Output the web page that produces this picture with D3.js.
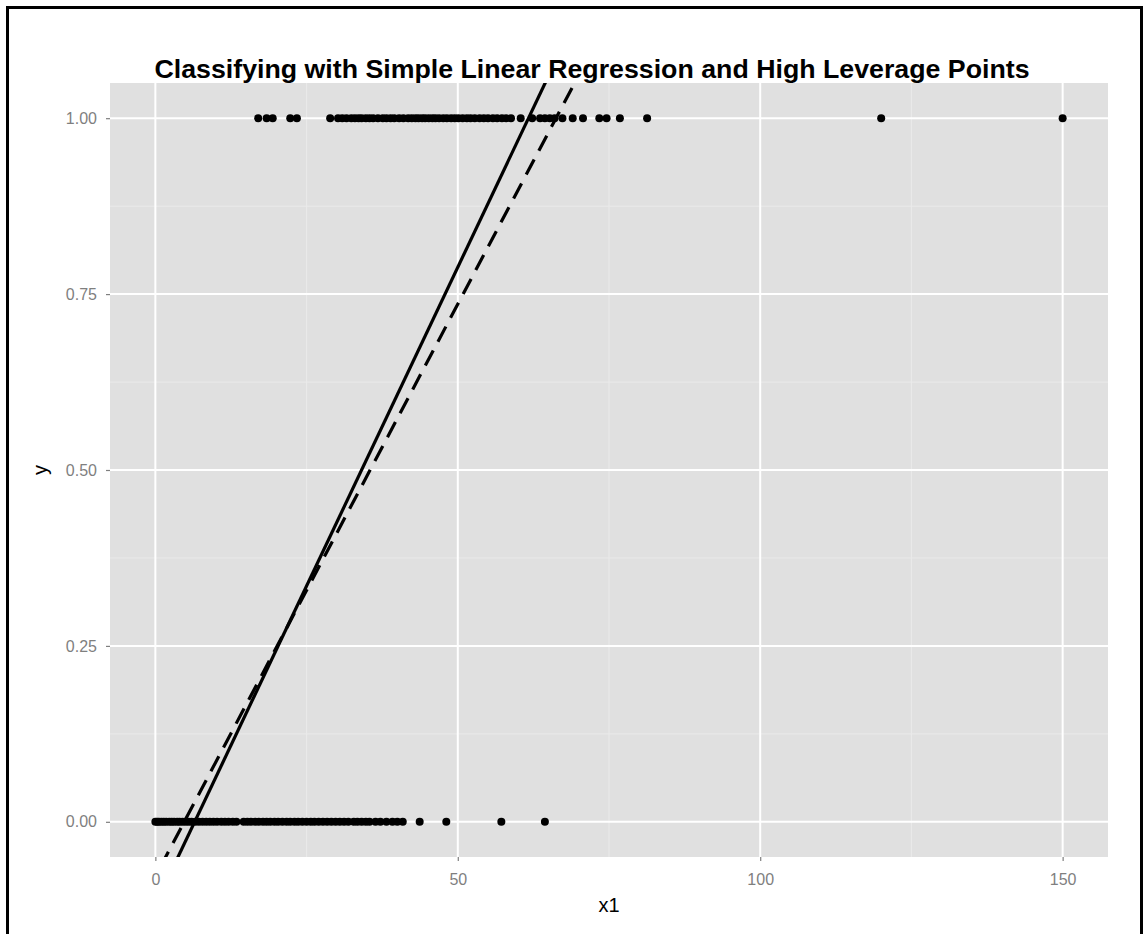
<!DOCTYPE html>
<html>
<head>
<meta charset="utf-8">
<script src="https://cdn.jsdelivr.net/npm/d3@7"></script>
<style>
  body { margin: 0; background: #fff; }
  svg { display: block; font-family: "Liberation Sans", Arial, Helvetica, sans-serif; }
</style>
</head>
<body>
<svg id="chart" width="1146" height="934"></svg>
<script>
// data ---------------------------------------------------------------
var title = "Classifying with Simple Linear Regression and High Leverage Points";

// x1 of the points with y = 1
var ones_x = [17.0, 18.4, 19.4, 22.3, 23.4,
  28.9, 30.2, 30.9, 31.6, 32.4, 33.0, 33.6, 34.1, 34.8, 35.4, 36.0, 36.8, 37.6, 38.2, 38.9,
  39.5, 40.3, 41.0, 41.8, 42.4, 43.0, 43.5, 44.1, 44.6, 45.2, 45.8, 46.3, 46.9, 47.6, 48.2,
  48.9, 49.5, 50.1, 50.8, 51.5, 52.1, 52.8, 53.6, 54.3, 55.0, 55.8, 56.5, 57.3, 58.0, 58.8,
  60.4, 62.3, 63.6, 64.4, 65.2, 66.0, 67.3, 69.0, 70.7, 73.4, 74.6, 76.8, 81.3, 120, 150];

// x1 of the points with y = 0
var zeros_x = [0.0, 0.3, 0.6, 1.0, 1.4, 1.8, 2.3, 2.7, 3.1, 3.6, 4.0, 4.5, 5.0, 5.5, 6.0, 6.6,
  7.2, 7.8, 8.4, 9.0, 9.6, 10.2, 10.9, 11.5, 12.1, 12.8, 13.4,
  14.6, 15.2, 15.8, 16.5, 17.1, 17.8, 18.4, 19.0, 19.7, 20.3, 21.0, 21.7, 22.3, 23.0, 23.6,
  24.3, 25.0, 25.7, 26.3, 27.0, 27.7, 28.4, 29.1, 29.8, 30.5, 31.2, 31.9,
  32.8, 33.4, 34.1, 34.8, 35.4, 36.4, 37.2, 38.2, 39.2, 40.0, 40.9,
  43.7, 48.1, 57.2, 64.4];

// regression fits: name, intercept, slope
var fit_names = ["without", "with"];
var fit_intercepts = [-0.1178, -0.0777];
var fit_slopes = [0.01812, 0.01627];

var x_ticks = [0, 50, 100, 150];
var x_minor = [25, 75, 125];
var y_ticks = [0, 0.25, 0.5, 0.75, 1];
var y_minor = [0.125, 0.375, 0.625, 0.875];

// layout ---------------------------------------------------------------
var svg = d3.select("#chart");
var panel = { left: 110, top: 83, right: 1108, bottom: 857 };

var x = d3.scaleLinear().domain([-7.5, 157.5]).range([panel.left, panel.right]);
var y = d3.scaleLinear().domain([-0.05, 1.05]).range([panel.bottom, panel.top]);

// frame
svg.append("rect")
  .attr("x", 7.5).attr("y", 7.5)
  .attr("width", 1134).attr("height", 960)
  .attr("fill", "none").attr("stroke", "#000").attr("stroke-width", 3);

// panel background
svg.append("rect")
  .attr("x", panel.left).attr("y", panel.top)
  .attr("width", panel.right - panel.left).attr("height", panel.bottom - panel.top)
  .attr("fill", "#e0e0e0");

// grid
var grid = svg.append("g");
grid.selectAll(".xmin").data(x_minor).enter().append("line")
  .attr("x1", d => x(d)).attr("x2", d => x(d))
  .attr("y1", panel.top).attr("y2", panel.bottom)
  .attr("stroke", "#eaeaea").attr("stroke-width", 1);
grid.selectAll(".ymin").data(y_minor).enter().append("line")
  .attr("y1", d => y(d)).attr("y2", d => y(d))
  .attr("x1", panel.left).attr("x2", panel.right)
  .attr("stroke", "#eaeaea").attr("stroke-width", 1);
grid.selectAll(".xmaj").data(x_ticks).enter().append("line")
  .attr("x1", d => x(d)).attr("x2", d => x(d))
  .attr("y1", panel.top).attr("y2", panel.bottom)
  .attr("stroke", "#fff").attr("stroke-width", 2);
grid.selectAll(".ymaj").data(y_ticks).enter().append("line")
  .attr("y1", d => y(d)).attr("y2", d => y(d))
  .attr("x1", panel.left).attr("x2", panel.right)
  .attr("stroke", "#fff").attr("stroke-width", 2);

// axes
var xAxis = svg.append("g")
  .attr("transform", `translate(0,${panel.bottom})`)
  .call(d3.axisBottom(x).tickValues(x_ticks).tickSize(4).tickPadding(13));
var yAxis = svg.append("g")
  .attr("transform", `translate(${panel.left},0)`)
  .call(d3.axisLeft(y).tickValues(y_ticks).tickSize(4).tickPadding(9).tickFormat(d3.format(".2f")));
[xAxis, yAxis].forEach(function (a) {
  a.select(".domain").remove();
  a.selectAll("line").attr("stroke", "#7f7f7f").attr("stroke-width", 1.2);
  a.selectAll("text").attr("fill", "#7f7f7f").attr("font-size", "16px");
});

// clip for lines
svg.append("clipPath").attr("id", "clip")
  .append("rect")
  .attr("x", panel.left).attr("y", panel.top)
  .attr("width", panel.right - panel.left).attr("height", panel.bottom - panel.top);

var plot = svg.append("g");

// points
plot.selectAll(".p0").data(zeros_x).enter().append("circle")
  .attr("cx", d => x(d)).attr("cy", y(0)).attr("r", 4).attr("fill", "#000");
plot.selectAll(".p1").data(ones_x).enter().append("circle")
  .attr("cx", d => x(d)).attr("cy", y(1)).attr("r", 4).attr("fill", "#000");

// fit lines
var xd = x.domain();
plot.append("g").attr("clip-path", "url(#clip)")
  .selectAll("line").data(fit_names).enter().append("line")
  .attr("x1", x(xd[0])).attr("x2", x(xd[1]))
  .attr("y1", (_, i) => y(fit_intercepts[i] + fit_slopes[i] * xd[0]))
  .attr("y2", (_, i) => y(fit_intercepts[i] + fit_slopes[i] * xd[1]))
  .attr("stroke", "#000").attr("stroke-width", 3.2)
  .attr("stroke-dasharray", d => d == "with" ? "17,10" : null);

// title and axis labels
svg.append("text")
  .attr("x", 592).attr("y", 78)
  .attr("text-anchor", "middle")
  .attr("font-size", "25px").attr("font-weight", "bold")
  .attr("textLength", 875).attr("lengthAdjust", "spacingAndGlyphs")
  .text(title);

svg.append("text")
  .attr("x", (panel.left + panel.right) / 2).attr("y", 912)
  .attr("text-anchor", "middle").attr("font-size", "20px")
  .text("x1");

svg.append("text")
  .attr("transform", `translate(47,${y(0.5)}) rotate(-90)`)
  .attr("text-anchor", "middle").attr("font-size", "20px")
  .text("y");
</script>
</body>
</html>
